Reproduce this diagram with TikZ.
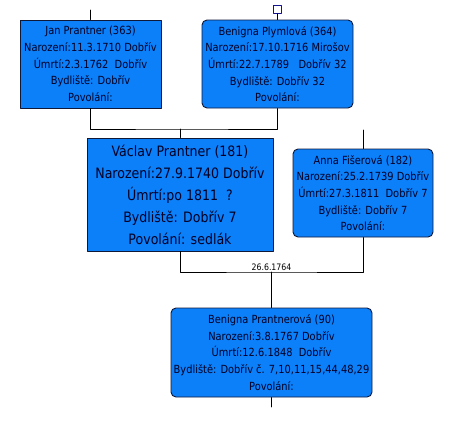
\documentclass[tikz,border=0pt]{standalone}
\usepackage{fontspec}
\newfontfamily\boxfont[FakeStretch=0.88]{DejaVu Sans}
\definecolor{boxblue}{RGB}{12,128,248}
\definecolor{boxline}{RGB}{16,24,56}
\definecolor{marknavy}{RGB}{20,20,140}

\begin{document}
\begin{tikzpicture}[x=1pt,y=-1pt, line join=round, line cap=round,
	person/.style={draw=boxline, fill=boxblue, line width=0.9pt, align=center, inner sep=0pt,
		text=black!85!blue, font=\boxfont\fontsize{11.2}{16.6}\selectfont},
	personr/.style={person, rounded corners=5pt},
	big/.style={font=\boxfont\fontsize{14.3}{22}\selectfont},
	link/.style={draw=black, line width=0.8pt}]
	\useasboundingbox (0,0) rectangle (453,437);
	\def \ya{129} \def \yb{272}
	% grandparents
	\node[person, minimum width=141pt, minimum height=88pt] (jan) at (90.5,64)
		{Jan Prantner (363)\\Narození:11.3.1710 Dobřív\\Úmrtí:2.3.1762~ Dobřív\\Bydliště: Dobřív\\Povolání:};
	\node[personr, minimum width=151pt, minimum height=88pt] (plym) at (277.5,64)
		{Benigna Plymlová (364)\\Narození:17.10.1716 Mirošov\\Úmrtí:22.7.1789~~ Dobřív 32\\Bydliště: Dobřív 32\\Povolání:};
	\node[draw=marknavy, line width=0.8pt, minimum size=8pt, inner sep=0pt] (sq) at (277.5,9.5) {};
	% parents
	\node[person, big, minimum width=186pt, minimum height=113pt] (vaclav) at (180,194.5)
		{Václav Prantner (181)\\Narození:27.9.1740 Dobřív\\Úmrtí:po 1811~ ?\\Bydliště: Dobřív 7\\Povolání: sedlák};
	\node[personr, minimum width=140pt, minimum height=88pt] (anna) at (363,193)
		{Anna Fišerová (182)\\Narození:25.2.1739 Dobřív\\Úmrtí:27.3.1811~ Dobřív 7\\Bydliště: Dobřív 7\\Povolání:};
	% child
	\node[personr, minimum width=201pt, minimum height=89pt] (ben) at (271.5,352.5)
		{Benigna Prantnerová (90)\\Narození:3.8.1767 Dobřív\\Úmrtí:12.6.1848~ Dobřív\\Bydliště: Dobřív č. 7,10,11,15,44,48,29\\Povolání:};
	\coordinate (jtop) at (jan.north |- 0,10);
	\coordinate (atop) at (anna.north |- 0,130);
	\coordinate (bbot) at (ben.south |- 0,407);
	\coordinate (m1) at (vaclav.north |- 0,\ya);
	\coordinate (m2) at (ben.north |- 0,\yb);
	% connectors
	\draw[link] (jan.north) -- (jtop);
	\draw[link] (sq.south) -- (plym.north);
	\draw[link] (jan.south) |- (m1) -| (plym.south);
	\draw[link] (m1) -- (vaclav.north);
	\draw[link] (anna.north) -- (atop);
	\draw[link] (vaclav.south) |- (m2) -| (anna.south);
	\draw[link] (m2) -- (ben.north);
	\draw[link] (ben.south) -- (bbot);
	\node[font=\boxfont\fontsize{8.9}{10}\selectfont, anchor=south, inner sep=1.5pt] (date) at (m2) {26.6.1764};
\end{tikzpicture}
\end{document}
